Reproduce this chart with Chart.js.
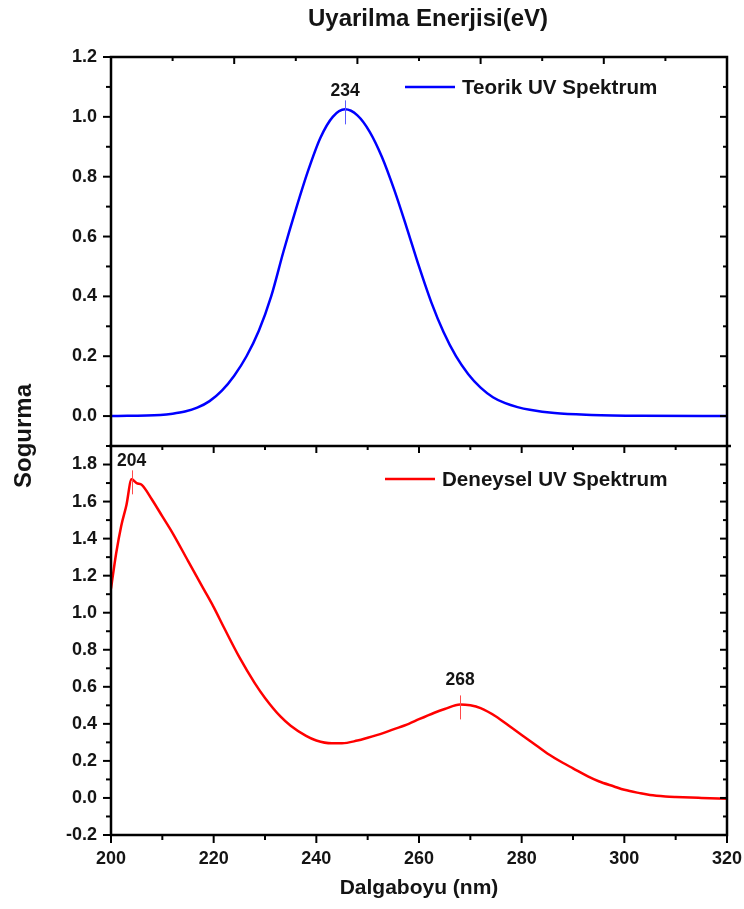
<!DOCTYPE html>
<html>
<head>
<meta charset="utf-8">
<title>UV Spektrum</title>
<script src="https://cdn.jsdelivr.net/npm/chart.js@4.4.1/dist/chart.umd.min.js"></script>
<style>
  html, body { margin: 0; padding: 0; background: #fff; }
  #wrap { width: 744px; height: 909px; }
</style>
</head>
<body>
<div id="wrap"><canvas id="uvChart" width="744" height="909"></canvas></div>
<script>
// ===== UV spectra: theoretical (top) vs experimental (bottom) =====

// theoretical spectrum, on its own wavelength scale (top panel)
const teorikNm = [196, 204, 206, 208, 210, 212, 214, 216, 218, 220, 222, 224, 226, 228, 230,
  232, 234, 236, 238, 240, 242, 244, 246, 248, 250, 252, 254, 256, 258, 260, 262, 264, 268, 274, 282, 296];
const teorikAbs = [0.0, 0.004, 0.008, 0.015, 0.028, 0.05, 0.085, 0.135, 0.20, 0.285, 0.40, 0.55, 0.69, 0.82, 0.93,
  1.0, 1.025, 1.005, 0.95, 0.865, 0.755, 0.63, 0.50, 0.38, 0.28, 0.20, 0.14, 0.095, 0.063, 0.043, 0.03, 0.021, 0.01, 0.004, 0.001, 0.0];

// experimental spectrum (bottom panel)
const deneyselNm = [200, 201, 202, 203, 204, 205, 206, 208, 210, 212, 215, 218, 220, 222, 225, 228, 230,
  233, 235, 238, 240, 243, 245, 248, 250, 253, 255, 258, 260, 263, 265, 268, 270, 272, 275, 278, 280,
  283, 285, 288, 290, 293, 295, 298, 300, 303, 305, 308, 310, 315, 320];
const deneyselAbs = [1.13, 1.32, 1.47, 1.58, 1.72, 1.70, 1.69, 1.61, 1.52, 1.43, 1.28, 1.13, 1.03, 0.92, 0.76, 0.62, 0.54,
  0.44, 0.39, 0.335, 0.31, 0.295, 0.295, 0.31, 0.325, 0.35, 0.37, 0.40, 0.425, 0.46, 0.48, 0.505, 0.50, 0.485, 0.44, 0.38, 0.34,
  0.28, 0.24, 0.19, 0.16, 0.115, 0.09, 0.062, 0.044, 0.026, 0.016, 0.008, 0.005, 0.0, -0.004];

// marked peaks
const teorikPeaks = [234];
const deneyselPeaks = [204, 268];

// tick labels
const xTicks = [200, 220, 240, 260, 280, 300, 320];
const yTopTicks = [0, 0.2, 0.4, 0.6, 0.8, 1.0, 1.2];
const yBotTicks = [-0.2, 0, 0.2, 0.4, 0.6, 0.8, 1.0, 1.2, 1.4, 1.6, 1.8];

const FONT = "'Liberation Sans', Arial, sans-serif";
const INK = "#141414";
const BLUE = "#0000ff";
const RED = "#ff0000";

const toPoints = (xs, ys) => xs.map((x, i) => ({ x, y: ys[i] }));

// frame, minor/major ticks, legends, peak markers and the titles
const decorations = {
  id: "decorations",
  afterDatasetsDraw(chart) {
    const { ctx, scales } = chart;
    const marks = [
      { peaks: teorikPeaks, xs: teorikNm, ys: teorikAbs, sx: scales.x2, sy: scales.yTop, color: "#5a5aff" },
      { peaks: deneyselPeaks, xs: deneyselNm, ys: deneyselAbs, sx: scales.x, sy: scales.yBot, color: "#ff4a4a" },
    ];
    ctx.save();
    ctx.font = `bold 17.5px ${FONT}`;
    ctx.textAlign = "center";
    ctx.textBaseline = "alphabetic";
    marks.forEach(m => {
      m.peaks.forEach(p => {
        const i = m.xs.indexOf(p);
        const px = m.sx.getPixelForValue(p);
        const py = m.sy.getPixelForValue(m.ys[i]);
        ctx.strokeStyle = m.color;
        ctx.lineWidth = 1;
        ctx.beginPath();
        ctx.moveTo(Math.round(px) + 0.5, py - 9);
        ctx.lineTo(Math.round(px) + 0.5, py + 15);
        ctx.stroke();
        ctx.fillStyle = INK;
        // the lower bump's label sits a little higher
        ctx.fillText(String(p), px, py - (m.ys[i] < 1 && m.sy === scales.yBot ? 19 : 13));
      });
    });
    ctx.restore();
  },
  afterDraw(chart) {
    const { ctx, chartArea: a, scales } = chart;
    const { x, x2, yTop, yBot } = scales;
    const mid = yTop.bottom;
    const seg = (x0, y0, x1, y1) => { ctx.beginPath(); ctx.moveTo(x0, y0); ctx.lineTo(x1, y1); ctx.stroke(); };

    ctx.save();
    ctx.strokeStyle = "#000";
    ctx.lineWidth = 2.5;
    ctx.strokeRect(a.left, a.top, a.right - a.left, a.bottom - a.top);
    seg(a.left - 2, mid, a.right + 4, mid);

    ctx.lineWidth = 2;
    // y ticks: out on the left, in on the right
    [yTop, yBot].forEach(s => {
      for (let k = Math.round(s.min * 10); k <= Math.round(s.max * 10); k++) {
        const y = s.getPixelForValue(k / 10);
        if (y < s.top - 1 || y > s.bottom + 1) continue;
        const major = k % 2 === 0;
        seg(a.left - (major ? 8 : 5), y, a.left, y);
        seg(a.right - (major ? 7 : 4), y, a.right, y);
      }
    });
    // wavelength ticks: below the frame and down from the divider
    for (let v = x.min; v <= x.max; v += 10) {
      const px = x.getPixelForValue(v);
      const major = (v - x.min) % 20 === 0;
      seg(px, a.bottom, px, a.bottom + (major ? 8 : 5));
      seg(px, mid, px, mid + (major ? 7 : 4));
    }
    // energy axis ticks along the top edge
    for (let v = x2.min; v <= x2.max; v += 10) {
      const px = x2.getPixelForValue(v);
      const major = (v - x2.min) % 20 === 0;
      seg(px, a.top, px, a.top + (major ? 7 : 4));
    }

    // legends
    ctx.lineWidth = 2.5;
    ctx.font = `bold 20.6px ${FONT}`;
    ctx.fillStyle = INK;
    ctx.textAlign = "left";
    ctx.textBaseline = "middle";
    ctx.strokeStyle = BLUE;
    seg(405, 87, 455, 87);
    ctx.fillText("Teorik UV Spektrum", 462, 88);
    ctx.strokeStyle = RED;
    seg(385, 479, 435, 479);
    ctx.fillText("Deneysel UV Spektrum", 442, 480);

    // top axis title
    ctx.font = `bold 24px ${FONT}`;
    ctx.textAlign = "center";
    ctx.fillText("Uyarilma Enerjisi(eV)", 428, 19);

    // shared y title
    ctx.translate(24, 436);
    ctx.rotate(-Math.PI / 2);
    ctx.fillText("Sogurma", 0, 0);
    ctx.restore();
  }
};

const tickFont = { family: FONT, size: 18, weight: "bold" };
const noSidePadding = s => { s.paddingLeft = 0; s.paddingRight = 0; };

const chart = new Chart(document.getElementById("uvChart"), {
  type: "line",
  data: {
    datasets: [
      {
        label: "Teorik UV Spektrum",
        data: toPoints(teorikNm, teorikAbs),
        xAxisID: "x2",
        yAxisID: "yTop",
        borderColor: BLUE,
        borderWidth: 2.5,
        pointRadius: 0,
        cubicInterpolationMode: "monotone",
      },
      {
        label: "Deneysel UV Spektrum",
        data: toPoints(deneyselNm, deneyselAbs),
        xAxisID: "x",
        yAxisID: "yBot",
        borderColor: RED,
        borderWidth: 2.5,
        pointRadius: 0,
        cubicInterpolationMode: "monotone",
      },
    ],
  },
  plugins: [decorations],
  options: {
    responsive: false,
    animation: false,
    devicePixelRatio: 1,
    layout: { padding: { left: 0, right: 17, top: 0, bottom: 0 } },
    plugins: { legend: { display: false }, tooltip: { enabled: false } },
    scales: {
      x: {
        type: "linear",
        position: "bottom",
        min: 200,
        max: 320,
        grid: { display: false, drawTicks: false },
        border: { display: false },
        ticks: { font: tickFont, color: INK, padding: 13, maxRotation: 0, autoSkip: false },
        afterBuildTicks: s => { s.ticks = xTicks.map(v => ({ value: v })); },
        afterFit: s => { s.height = 74; noSidePadding(s); },
        title: {
          display: true,
          text: "Dalgaboyu (nm)",
          color: INK,
          font: { family: FONT, size: 21, weight: "bold" },
          padding: { top: 0, bottom: 8 },
        },
      },
      x2: {
        type: "linear",
        position: "top",
        min: 196,
        max: 296,
        grid: { display: false, drawTicks: false },
        border: { display: false },
        ticks: { display: false },
        afterFit: s => { s.height = 57; noSidePadding(s); },
      },
      yTop: {
        type: "linear",
        position: "left",
        stack: "panels",
        stackWeight: 1,
        weight: 1,
        min: -0.1,
        max: 1.2,
        grid: { display: false, drawTicks: false },
        border: { display: false },
        ticks: { font: tickFont, color: INK, padding: 14, autoSkip: false, callback: v => v.toFixed(1) },
        afterBuildTicks: s => { s.ticks = yTopTicks.map(v => ({ value: v })); },
        afterFit: s => { s.width = 111; },
      },
      yBot: {
        type: "linear",
        position: "left",
        stack: "panels",
        stackWeight: 1,
        weight: 0,
        min: -0.2,
        max: 1.9,
        grid: { display: false, drawTicks: false },
        border: { display: false },
        ticks: { font: tickFont, color: INK, padding: 14, autoSkip: false, callback: v => v.toFixed(1) },
        afterBuildTicks: s => { s.ticks = yBotTicks.map(v => ({ value: v })); },
        afterFit: s => { s.width = 111; },
      },
    },
  },
});
</script>
</body>
</html>
